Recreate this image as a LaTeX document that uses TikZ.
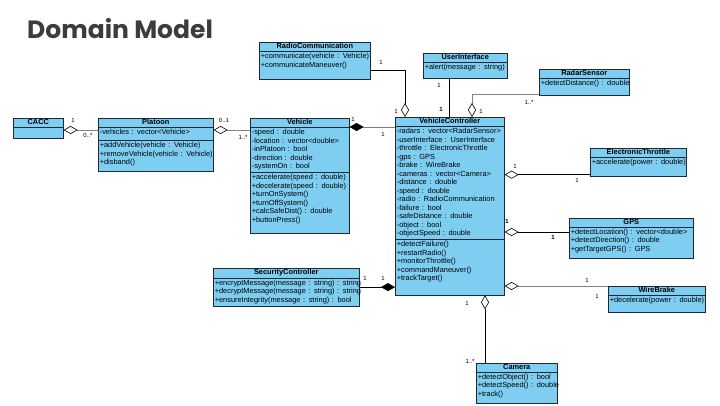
\documentclass[tikz,border=0pt]{standalone}
\usepackage{fontspec}
\setmainfont{Liberation Sans}
\newfontfamily\titlefont{Poppins}
\usepackage{tikz}
\usetikzlibrary{shapes.multipart,arrows.meta}
\definecolor{classblue}{RGB}{126,206,242}
\definecolor{classline}{RGB}{30,40,55}
\definecolor{titlegray}{RGB}{60,60,60}
\newcommand{\chead}[1]{\centering\rule[-1pt]{0pt}{5.5pt}\textbf{#1}\par}
\newcommand{\crow}[1]{\mbox{\strut#1}\par}
\newcommand{\cpad}[1]{\kern#1\relax}

\begin{document}
\begin{tikzpicture}[x=1pt,y=-1pt,
  umlclass/.style={rectangle split, rectangle split parts=3, draw=classline, fill=classblue,
    line width=0.6pt, inner xsep=1.5pt, inner ysep=1pt, anchor=north west,
    font=\fontsize{7.4}{8.5}\selectfont, align=left},
  umlclass2/.style={umlclass, rectangle split parts=2},
  agg/.style={{Diamond[open,length=14pt,width=8pt,color=black]}-, line width=0.6pt},
  comp/.style={{Diamond[length=14pt,width=8pt,color=black]}-, line width=0.6pt},
  mult/.style={font=\fontsize{6}{7}\selectfont, inner sep=0pt}]
\useasboundingbox (0,0) rectangle (720,405);
\node[anchor=base west, inner sep=0pt, text=titlegray,
  font=\titlefont\bfseries\fontsize{25}{30}\selectfont] (title) at (27,38) {Domain Model};
% classes
\node[umlclass2, text width=47pt] (cacc) at (13,118) {\chead{CACC}
  \nodepart{two}\crow{}};
\node[umlclass, text width=112pt] (platoon) at (98,118) {\chead{Platoon}
  \nodepart{two}\crow{-vehicles : vector<Vehicle>}\cpad{2pt}
  \nodepart{three}\crow{+addVehicle(vehicle : Vehicle)}\crow{+removeVehicle(vehicle : Vehicle)}%
  \crow{+disband()}\cpad{3pt}};
\node[umlclass, text width=96pt] (vehicle) at (250,118) {\chead{Vehicle}
  \nodepart{two}\crow{-speed : double}\crow{-location : vector<double>}\crow{-inPlatoon : bool}%
  \crow{-direction : double}\crow{-systemOn : bool}
  \nodepart{three}\crow{+accelerate(speed : double)}\crow{+decelerate(speed : double)}%
  \crow{+turnOnSystem()}\crow{+turnOffSystem()}\crow{+calcSafeDist() : double}%
  \crow{+buttonPress()}\cpad{7pt}};
\node[umlclass2, text width=108pt] (radio) at (259,42) {\chead{RadioCommunication}
  \nodepart{two}\crow{+communicate(vehicle : Vehicle)}\crow{+communicateManeuver()}\cpad{8.5pt}};
\node[umlclass2, text width=81pt] (ui) at (423,53) {\chead{UserInterface}
  \nodepart{two}\crow{+alert(message : string)}\cpad{5pt}};
\node[umlclass2, text width=87pt] (radar) at (539,69) {\chead{RadarSensor}
  \nodepart{two}\crow{+detectDistance() : double}\cpad{6pt}};
\node[umlclass, text width=106pt] (vc) at (395,117) {\chead{VehicleController}
  \nodepart{two}\crow{-radars : vector<RadarSensor>}\crow{-userInterface : UserInterface}%
  \crow{-throttle : ElectronicThrottle}\crow{-gps : GPS}\crow{-brake : WireBrake}%
  \crow{-cameras : vector<Camera>}\crow{-distance : double}\crow{-speed : double}%
  \crow{-radio : RadioCommunication}\crow{-failure : bool}\crow{-safeDistance : double}%
  \crow{-object : bool}\crow{-objectSpeed : double}
  \nodepart{three}\crow{+detectFailure()}\crow{+restartRadio()}\crow{+monitorThrottle()}%
  \crow{+commandManeuver()}\crow{+trackTarget()}\cpad{10.5pt}};
\node[umlclass2, text width=93pt] (et) at (590,148) {\chead{ElectronicThrottle}
  \nodepart{two}\crow{+accelerate(power : double)}\cpad{8pt}};
\node[umlclass2, text width=121pt] (gps) at (569,218) {\chead{GPS}
  \nodepart{two}\crow{+detectLocation() : vector<double>}\crow{+detectDirection() : double}%
  \crow{+getTargetGPS() : GPS}\cpad{3pt}};
\node[umlclass2, text width=94pt] (wb) at (608,286) {\chead{WireBrake}
  \nodepart{two}\crow{+decelerate(power : double)}\cpad{6pt}};
\node[umlclass2, text width=143pt] (sc) at (213,268) {\chead{SecurityController}
  \nodepart{two}\crow{+encryptMessage(message : string) : string}%
  \crow{+decryptMessage(message : string) : string}%
  \crow{+ensureIntegrity(message : string) : bool}};
\node[umlclass2, text width=78pt] (cam) at (476,363) {\chead{Camera}
  \nodepart{two}\crow{+detectObject() : bool}\crow{+detectSpeed() : double}\crow{+track()}\cpad{3pt}};
% connectors
\coordinate (cacc-pl) at ([yshift=-12pt]cacc.north east);
\draw[agg, gray] (cacc-pl) -- (cacc-pl -| platoon.west);
\coordinate (pl-v) at ([yshift=-12pt]platoon.north east);
\draw[agg, gray] (pl-v) -- (pl-v -| vehicle.west);
\coordinate (v-vc) at ([yshift=-9pt]vehicle.north east);
\draw[comp, gray] (v-vc) -- (v-vc -| vc.west);
\coordinate (vc-radio) at ([xshift=10pt]vc.north west);
\draw[agg] (vc-radio) |- ([yshift=-9pt]radio.east);
\coordinate (ui-vc) at ([xshift=-16pt]ui.south);
\draw[line width=0.6pt] (ui-vc) -- (ui-vc |- vc.north);
\coordinate (vc-radar) at ([xshift=77pt]vc.north west);
\draw[agg, gray] (vc-radar) |- ([yshift=1pt]radar.south west);
\coordinate (et-vc) at ([yshift=2pt]et.south west);
\draw[agg] (vc.east |- et-vc) -- (et-vc);
\coordinate (gps-vc) at ([yshift=-14pt]gps.north west);
\draw[agg] (vc.east |- gps-vc) -- (gps-vc);
\draw[agg, gray] (vc.east |- wb.north west) -- (wb.north west);
\draw[comp] (vc.west |- sc.east) -- (sc.east);
\coordinate (cam-vc) at ([xshift=9pt]cam.north west);
\draw[agg] (cam-vc |- vc.south) -- (cam-vc);
% multiplicities
\node[mult] (cacc-m1) at (73,120) {1};
\node[mult] (cacc-m2) at (88,135) {0..*};
\node[mult] (pl-m1) at (224,120) {0..1};
\node[mult] (pl-m2) at (243,137) {1..*};
\node[mult] (v-m1) at (353,119) {1};
\node[mult] (v-m2) at (383,134) {1};
\node[mult] (radio-m1) at (381,62) {1};
\node[mult] (radio-m2) at (396,111) {1};
\node[mult] (ui-m1) at (439,85) {1};
\node[mult] (ui-m2) at (441,109) {\textbf{1}};
\node[mult] (radar-m1) at (529,102) {1..*};
\node[mult] (radar-m2) at (481,111) {1};
\node[mult] (et-m1) at (515,166) {1};
\node[mult] (et-m2) at (577,180) {1};
\node[mult] (gps-m1) at (507,221) {\textbf{1}};
\node[mult] (gps-m2) at (553,237) {\textbf{1}};
\node[mult] (wb-m1) at (587,280) {1};
\node[mult] (wb-m2) at (597,296) {1};
\node[mult] (sc-m1) at (365,278) {1};
\node[mult] (sc-m2) at (383,278) {1};
\node[mult] (cam-m1) at (467,303) {1};
\node[mult] (cam-m2) at (470,361) {1..*};
\end{tikzpicture}
\end{document}
